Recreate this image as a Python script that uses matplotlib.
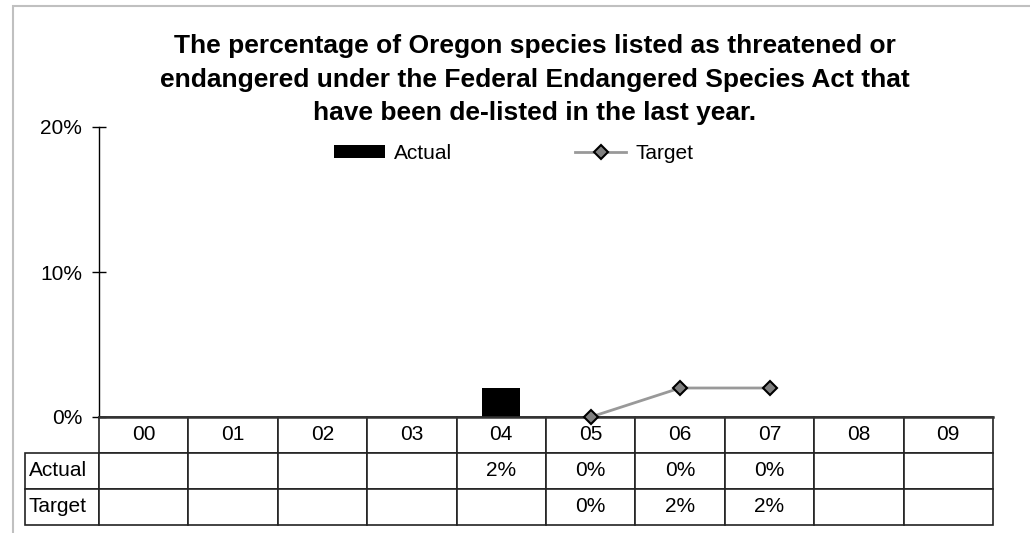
import numpy as np
import matplotlib
matplotlib.use('Agg')
import matplotlib.pyplot as plt
from matplotlib.patches import Rectangle
from matplotlib.table import Table

plt.rcParams['font.family'] = ['Liberation Sans', 'DejaVu Sans']

# data
years = ['00', '01', '02', '03', '04', '05', '06', '07', '08', '09']
actual = [np.nan, np.nan, np.nan, np.nan, 2, 0, 0, 0, np.nan, np.nan]
target = [np.nan, np.nan, np.nan, np.nan, np.nan, 0, 2, 2, np.nan, np.nan]
yticks = [0, 10, 20]
title = ('The percentage of Oregon species listed as threatened or\n'
         'endangered under the Federal Endangered Species Act that\n'
         'have been de-listed in the last year.')


def fmt(v):
    return '' if np.isnan(v) else f'{v:.0f}%'


W, H = 1030, 533
fig = plt.figure(figsize=(W / 100, H / 100), dpi=100)
# axes: x 99..993, y 127..417 (pixels)
ax = fig.add_axes([99 / W, (H - 417) / H, 894 / W, 290 / H])

x = np.arange(len(years))
bars = ax.bar(x, actual, width=0.425, color='black', linewidth=0, label='Actual')
line, = ax.plot(x, target, color='#999999', lw=2, marker='D', ms=7,
                mfc='#808080', mec='black', mew=1.5, label='Target',
                clip_on=False, zorder=5)

ax.set_xlim(-0.5, len(years) - 0.5)
ax.set_ylim(0, 20)
ax.set_yticks(yticks)
ax.set_yticklabels([f'{v}%' for v in yticks], fontsize=15)
ax.tick_params(axis='y', direction='inout', length=10, width=1, pad=7)
ax.set_xticks([])
for s in ['top', 'right']:
    ax.spines[s].set_visible(False)
ax.spines['left'].set_linewidth(1)
ax.spines['bottom'].set_color('#333333')
ax.spines['bottom'].set_linewidth(1.8)

ax.legend(handles=[bars, line], loc='center', bbox_to_anchor=(0.464, 0.908),
          ncol=2, frameon=False, fontsize=15, handlelength=2.45,
          handletextpad=0.46, columnspacing=5.9, handleheight=0.58)

# data table under the axis
rows = [[''] + years,
        ['Actual'] + [fmt(v) for v in actual],
        ['Target'] + [fmt(v) for v in target]]
widths = [74] + [89.4] * len(years)
tbl = Table(ax, bbox=[-74 / 894, -108 / 290, 968 / 894, 108 / 290])
for r, row in enumerate(rows):
    for c, txt in enumerate(row):
        cell = tbl.add_cell(r, c, width=widths[c], height=1, text=txt,
                            loc='left' if c == 0 else 'center',
                            edgecolor='#222222')
        cell.set_linewidth(1.2)
        if c == 0:
            cell.PAD = 0.05
        if r == 0 and c == 0:
            cell.visible_edges = ''
tbl.auto_set_font_size(False)
tbl.set_fontsize(15)
ax.add_table(tbl)

fig.text(535 / W, (H - 120) / H, title, ha='center', va='baseline',
         fontsize=19, fontweight='bold', linespacing=1.5)

# light outer frame of the chart area
fig.add_artist(Rectangle((13 / W, -0.1), 1.2, (H - 6) / H + 0.1,
                         transform=fig.transFigure, fill=False,
                         edgecolor='#c0c0c0', lw=1.5))

fig.savefig('out.png', dpi=100)
